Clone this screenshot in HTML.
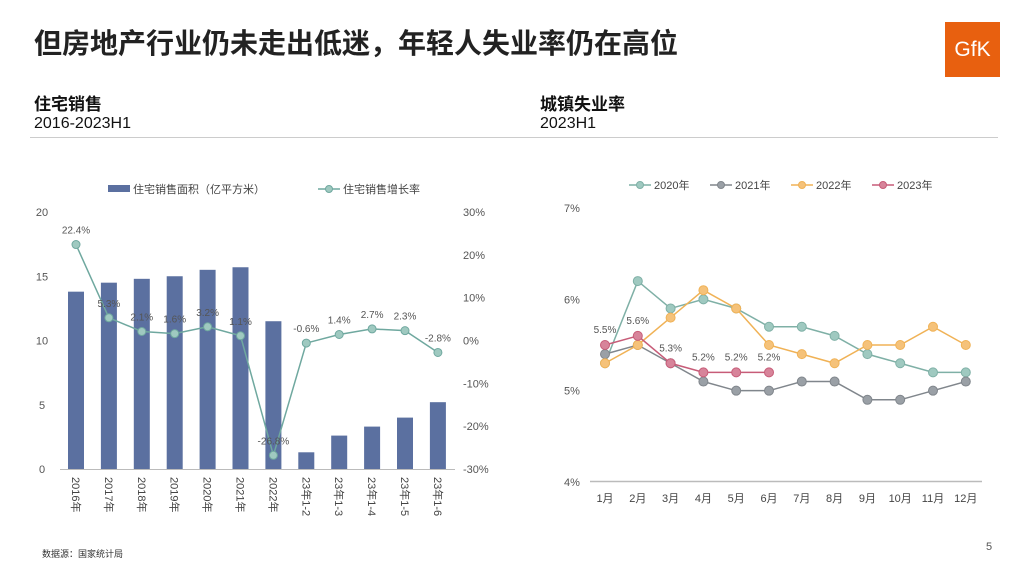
<!DOCTYPE html>
<html><head><meta charset="utf-8">
<style>
body{margin:0;width:1024px;height:576px;background:#fff;position:relative;overflow:hidden;font-family:"Liberation Sans","Noto Sans CJK SC",sans-serif;}
.abs{position:absolute;}
</style></head><body>
<div class="abs" style="left:34px;top:22px;font-size:28px;font-weight:bold;color:#222;">但房地产行业仍未走出低迷，年轻人失业率仍在高位</div>
<div class="abs" style="left:945px;top:22px;width:55px;height:55px;background:#e8600f;color:#fff;font-size:21px;line-height:55px;text-align:center;">GfK</div>
<div class="abs" style="left:34px;top:90px;font-size:17px;font-weight:bold;color:#111;">住宅销售</div>
<div class="abs" style="left:34px;top:115px;font-size:16px;color:#111;">2016-2023H1</div>
<div class="abs" style="left:540px;top:90px;font-size:17px;font-weight:bold;color:#111;">城镇失业率</div>
<div class="abs" style="left:540px;top:115px;font-size:16px;color:#111;">2023H1</div>
<div class="abs" style="left:30px;top:137px;width:968px;height:1px;background:#ccc;"></div>
<div class="abs" style="left:42px;top:547px;font-size:9px;color:#333;">数据源：国家统计局</div>
<div class="abs" style="left:986px;top:541px;font-size:11px;color:#555;">5</div>
<svg id="c" class="abs" style="left:0;top:0" width="1024" height="576" font-family="Liberation Sans, Noto Sans CJK SC, sans-serif"></svg>
<script>
const barCats=["2016年","2017年","2018年","2019年","2020年","2021年","2022年","23年1-2","23年1-3","23年1-4","23年1-5","23年1-6"];
const barVals=[13.8,14.5,14.8,15.0,15.5,15.7,11.5,1.3,2.6,3.3,4.0,5.2];
const growthVals=[22.4,5.3,2.1,1.6,3.2,1.1,-26.8,-0.6,1.4,2.7,2.3,-2.8];
const leftTicks=[0,5,10,15,20];
const rightTicks=[-30,-20,-10,0,10,20,30];
const months=["1月","2月","3月","4月","5月","6月","7月","8月","9月","10月","11月","12月"];
const s2020=[5.3,6.2,5.9,6.0,5.9,5.7,5.7,5.6,5.4,5.3,5.2,5.2];
const s2021=[5.4,5.5,5.3,5.1,5.0,5.0,5.1,5.1,4.9,4.9,5.0,5.1];
const s2022=[5.3,5.5,5.8,6.1,5.9,5.5,5.4,5.3,5.5,5.5,5.7,5.5];
const s2023=[5.5,5.6,5.3,5.2,5.2,5.2];
const unempTicks=[4,5,6,7];
const svg=document.getElementById('c');const NS="http://www.w3.org/2000/svg";
function el(t,a,txt){const e=document.createElementNS(NS,t);for(const k in a)e.setAttribute(k,a[k]);if(txt!=null)e.textContent=txt;svg.appendChild(e);return e;}
// left chart
const lx=i=>76+i*32.9, ly=v=>469-v*(257/20), ry=v=>469-(v+30)*(257/60);
el('line',{x1:60,x2:455,y1:469.5,y2:469.5,stroke:'#bbb'});
leftTicks.forEach(t=>{const e=el('text',{x:42,y:ly(t)+4,'font-size':11,fill:'#555','text-anchor':'middle'},t);});
rightTicks.forEach(t=>{const e=el('text',{x:463,y:ry(t)+4,'font-size':11,fill:'#555'},t+'%');});
barVals.forEach((v,i)=>{const r=el('rect',{x:lx(i)-8,y:ly(v),width:16,height:469-ly(v),fill:'#5b70a0'});
const t=el('text',{transform:`translate(${lx(i)-4},477) rotate(90)`,'font-size':11,fill:'#444'},barCats[i]);});
el('polyline',{points:growthVals.map((v,i)=>lx(i)+','+ry(v)).join(' '),fill:'none',stroke:'#6fa89f','stroke-width':1.5});
growthVals.forEach((v,i)=>{const c=el('circle',{cx:lx(i),cy:ry(v),r:4,fill:'#9fc9c0',stroke:'#6fa89f'});
const t=el('text',{x:lx(i),y:ry(v)-11,'font-size':10,fill:'#555','text-anchor':'middle'},v+'%');});
el('rect',{x:108,y:185,width:22,height:7,fill:'#5b70a0'});
el('text',{x:133,y:193,'font-size':11,fill:'#444'},'住宅销售面积（亿平方米）');
el('line',{x1:318,x2:340,y1:189,y2:189,stroke:'#6fa89f','stroke-width':1.5});
el('circle',{cx:329,cy:189,r:3.5,fill:'#9fc9c0',stroke:'#6fa89f'});
el('text',{x:343,y:193,'font-size':11,fill:'#444'},'住宅销售增长率');
// right chart
const mx=i=>605+i*32.8, my=v=>482-(v-4)*(274/3);
el('line',{x1:590,x2:982,y1:481.5,y2:481.5,stroke:'#bbb','stroke-width':1.5});
unempTicks.forEach(t=>{const e=el('text',{x:572,y:my(t)+4,'font-size':11,fill:'#555','text-anchor':'middle'},t+'%');});
months.forEach((m,i)=>{const e=el('text',{x:mx(i),y:502,'font-size':11,fill:'#444','text-anchor':'middle'},m);});
const series=[[s2020,'#7fb0a6','#9fc9c0','2020年'],[s2021,'#80868c','#9aa0a6','2021年'],[s2022,'#f0b256','#f5c27a','2022年'],[s2023,'#c75c78','#d7849a','2023年']];
series.forEach(([d,sc,fc,name],k)=>{
el('polyline',{points:d.map((v,i)=>mx(i)+','+my(v)).join(' '),fill:'none',stroke:sc,'stroke-width':1.5});
d.forEach((v,i)=>{const c=el('circle',{cx:mx(i),cy:my(v),r:4.5,fill:fc,stroke:sc});
if(k===3){const t=el('text',{x:mx(i),y:my(v)-12,'font-size':10,fill:'#555','text-anchor':'middle'},v+'%');}});
const lxp=629+k*81;
el('line',{x1:lxp,x2:lxp+22,y1:185,y2:185,stroke:sc,'stroke-width':1.5});
el('circle',{cx:lxp+11,cy:185,r:3.5,fill:fc,stroke:sc});
el('text',{x:lxp+25,y:189,'font-size':11,fill:'#444'},name);
});
</script>
</body></html>
